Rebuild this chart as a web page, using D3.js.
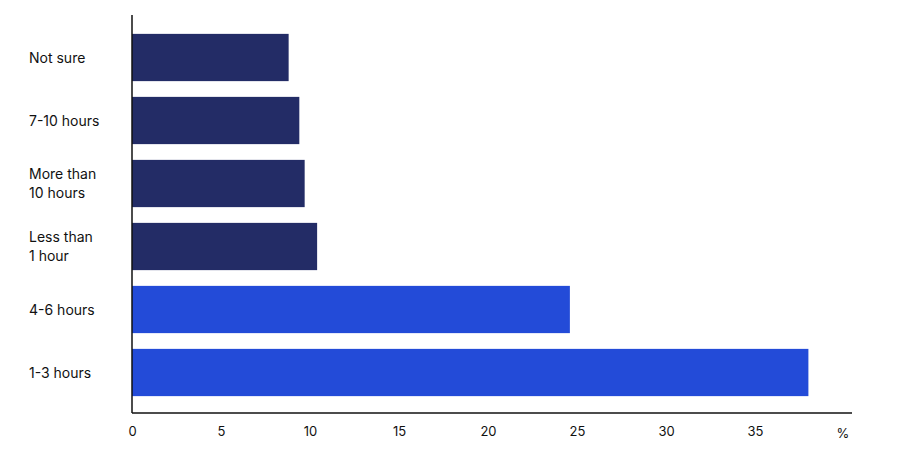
<!DOCTYPE html>
<html><head><meta charset="utf-8">
<script src="https://cdn.jsdelivr.net/npm/d3@7"></script>
<style>body{margin:0;background:#fff}text{font-family:Inter,"Noto Sans",sans-serif;fill:#111}</style>
</head><body><svg id="c" width="900" height="463"></svg>
<script>
const categories = ["Not sure","7-10 hours","More than\n10 hours","Less than\n1 hour","4-6 hours","1-3 hours"];
const values = [8.8, 9.4, 9.7, 10.4, 24.6, 38.0];
const highlight = [false,false,false,false,true,true];
const tickValues = [0,5,10,15,20,25,30,35];

const svg = d3.select("#c");
const x = d3.scaleLinear().domain([0,35]).range([132,755]);
const y = d3.scaleBand().domain(categories).range([26,404]).paddingInner(0.25).paddingOuter(0.125);

svg.selectAll("rect.bar").data(categories).join("rect")
  .attr("x", x(0)).attr("y", d=>y(d)).attr("height", y.bandwidth())
  .attr("width", (d,i)=>x(values[i])-x(0))
  .attr("fill", (d,i)=>highlight[i] ? "#234BD8" : "#232C66");

// axes lines
svg.append("line").attr("x1",132).attr("x2",132).attr("y1",15).attr("y2",413).attr("stroke","#111").attr("stroke-width",1.5);
svg.append("line").attr("x1",132).attr("x2",852).attr("y1",413).attr("y2",413).attr("stroke","#111").attr("stroke-width",1.5);

const xAxis = d3.axisBottom(x).tickValues(tickValues).tickSize(0).tickPadding(14);
const gx = svg.append("g").attr("transform","translate(0,413)").call(xAxis);
gx.select(".domain").remove();
gx.selectAll("text").attr("font-size",13).style("font-family","Inter, sans-serif");
svg.append("text").attr("x",843).attr("y",438).attr("font-size",13).attr("text-anchor","middle").text("%");

svg.selectAll("text.lab").data(categories).join("text").attr("class","lab")
  .attr("font-size",14)
  .each(function(d){
    const lines = d.split("\n");
    const cy = y(d)+y.bandwidth()/2;
    const t = d3.select(this);
    lines.forEach((l,k)=>{
      t.append("tspan").attr("x",29).attr("y", cy + (k-(lines.length-1)/2)*19 + 5).text(l);
    });
  });
</script></body></html>
